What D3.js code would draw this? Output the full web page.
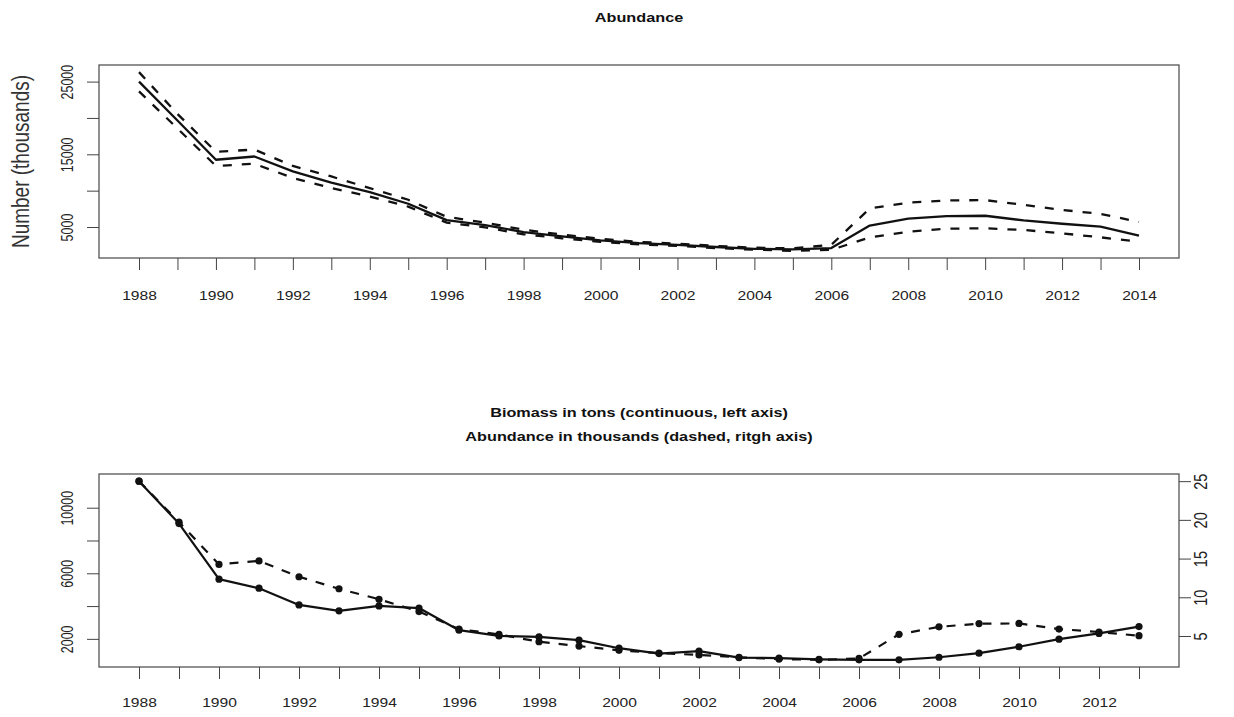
<!DOCTYPE html>
<html>
<head>
<meta charset="utf-8">
<script src="https://cdn.jsdelivr.net/npm/d3@7"></script>
<style>
  html, body { margin: 0; padding: 0; background: #fff; }
  svg { display: block; font-family: "Liberation Sans", Arial, sans-serif; }
</style>
</head>
<body>
<svg id="chart" width="1234" height="717"></svg>
<script>
// ---- Abundance panel (thousands of individuals, with confidence band) ----
const yearsTop = [1988,1989,1990,1991,1992,1993,1994,1995,1996,1997,1998,1999,2000,
                  2001,2002,2003,2004,2005,2006,2007,2008,2009,2010,2011,2012,2013,2014];
const abundEst = [25000,19650,14250,14700,12650,11100,9800,8200,5950,5250,4300,3700,3150,
                  2780,2550,2250,2000,1920,2100,5200,6150,6500,6550,5900,5450,5040,3800];
const abundUpper = [26300,20550,15350,15650,13400,11950,10350,8750,6400,5600,4620,3960,3360,
                    2950,2700,2400,2150,2060,2550,7550,8350,8650,8700,8050,7350,6800,5700];
const abundLower = [23650,18550,13400,13700,11750,10350,9200,7800,5600,4950,4000,3450,2950,
                    2600,2400,2100,1880,1720,1850,3580,4350,4770,4820,4590,4130,3580,2970];
const topTicksY = [5000,10000,15000,20000,25000];
const topLabelsY = [5000,15000,25000];

// ---- Biomass / abundance panel ----
const yearsBot = [1988,1989,1990,1991,1992,1993,1994,1995,1996,1997,1998,1999,2000,
                  2001,2002,2003,2004,2005,2006,2007,2008,2009,2010,2011,2012,2013];
const biomassTons = [11620,9030,5640,5090,4070,3710,4010,3880,2530,2180,2120,1920,1430,
                     1100,1250,860,820,750,720,720,880,1130,1520,1980,2330,2750];
const abundThousands = [25.0,19.7,14.25,14.7,12.65,11.1,9.75,8.15,5.9,5.2,4.26,3.7,3.15,
                        2.8,2.55,2.25,2.02,1.92,2.1,5.22,6.18,6.6,6.62,5.9,5.52,5.04];
const botTicksLeft = [2000,4000,6000,8000,10000];
const botLabelsLeft = [2000,6000,10000];
const botTicksRight = [5,10,15,20,25];

const titleTop = "Abundance";
const titleBot1 = "Biomass in tons (continuous, left axis)";
const titleBot2 = "Abundance in thousands (dashed, ritgh axis)";
const yLabelTop = "Number (thousands)";

// ---- layout ----
const plotLeft = 99, plotRight = 1179;
const topBox = { top: 65, bottom: 258 };
const botBox = { top: 474, bottom: 667 };
const SX = 1.3;            // horizontal stretch applied to all text
const ink = "#111";

const svg = d3.select("#chart");

// R-style 4% padding around the data range
function padded(lo, hi) { const p = (hi - lo) * 0.04; return [lo - p, hi + p]; }

function stretchedText(g, x, y, str, opts) {
  const o = Object.assign({ size: 12, weight: "normal", rotate: 0, anchor: "middle", dy: "0" }, opts || {});
  return g.append("text")
    .attr("transform", `translate(${x},${y}) scale(${SX},1)` + (o.rotate ? ` rotate(${o.rotate})` : ""))
    .attr("text-anchor", o.anchor)
    .attr("dy", o.dy)
    .attr("font-size", o.size)
    .attr("font-weight", o.weight)
    .attr("fill", o.fill || ink)
    .text(str);
}

function styleBottomAxis(g, size, labelY) {
  g.select(".domain").remove();
  g.selectAll(".tick line").attr("stroke", "#444").attr("stroke-width", 1);
  g.selectAll(".tick text")
    .attr("font-size", size).attr("fill", "#222")
    .attr("font-family", "Liberation Sans, Arial, sans-serif")
    .attr("transform", `scale(${SX},1)`)
    .attr("y", labelY).attr("dy", "0.35em");
}

function styleRotatedAxis(g, size, offset) {
  g.select(".domain").remove();
  g.selectAll(".tick line").attr("stroke", "#444").attr("stroke-width", 1);
  g.selectAll(".tick text")
    .attr("font-size", size).attr("fill", "#222")
    .attr("font-family", "Liberation Sans, Arial, sans-serif")
    .attr("x", null).attr("y", null)
    .attr("text-anchor", "middle")
    .attr("dy", "0.36em")
    .attr("transform", `translate(${offset},0) scale(${SX},1) rotate(-90)`);
}

// ================= Top panel =================
const xTop = d3.scaleLinear()
  .domain(padded(d3.min(yearsTop), d3.max(yearsTop)))
  .range([plotLeft, plotRight]);
const yTop = d3.scaleLinear()
  .domain(padded(d3.min(abundLower), d3.max(abundUpper)))
  .range([topBox.bottom, topBox.top]);

const gTop = svg.append("g");

gTop.append("rect")
  .attr("x", plotLeft).attr("y", topBox.top)
  .attr("width", plotRight - plotLeft).attr("height", topBox.bottom - topBox.top)
  .attr("fill", "none").attr("stroke", "#555").attr("stroke-width", 1.3);

gTop.append("g")
  .attr("transform", `translate(0,${topBox.bottom})`)
  .call(d3.axisBottom(xTop).tickValues(yearsTop).tickSize(12)
        .tickFormat(d => d % 2 === 0 ? d : ""))
  .call(g => styleBottomAxis(g, 12, 38));

gTop.append("g")
  .attr("transform", `translate(${plotLeft},0)`)
  .call(d3.axisLeft(yTop).tickValues(topTicksY).tickSize(12)
        .tickFormat(d => topLabelsY.includes(d) ? d : ""))
  .call(g => styleRotatedAxis(g, 12.5, -32));

const lineTop = (vals) => d3.line().x((d, i) => xTop(yearsTop[i])).y(d => yTop(d))(vals);

gTop.append("path").attr("d", lineTop(abundUpper))
  .attr("fill", "none").attr("stroke", ink).attr("stroke-width", 2.3)
  .attr("stroke-dasharray", "9,10");
gTop.append("path").attr("d", lineTop(abundLower))
  .attr("fill", "none").attr("stroke", ink).attr("stroke-width", 2.3)
  .attr("stroke-dasharray", "9,10");
gTop.append("path").attr("d", lineTop(abundEst))
  .attr("fill", "none").attr("stroke", ink).attr("stroke-width", 2.3)
  .attr("stroke-linejoin", "round");

stretchedText(gTop, (plotLeft + plotRight) / 2, 22, titleTop, { size: 12.5, weight: "bold" });
stretchedText(gTop, 20, (topBox.top + topBox.bottom) / 2, yLabelTop,
              { size: 19, rotate: -90, dy: "0.36em", fill: "#333" });

// ================= Bottom panel =================
const xBot = d3.scaleLinear()
  .domain(padded(d3.min(yearsBot), d3.max(yearsBot)))
  .range([plotLeft, plotRight]);
const yBio = d3.scaleLinear()
  .domain(padded(d3.min(biomassTons), d3.max(biomassTons)))
  .range([botBox.bottom, botBox.top]);
const yAbu = d3.scaleLinear()
  .domain(padded(d3.min(abundThousands), d3.max(abundThousands)))
  .range([botBox.bottom, botBox.top]);

const gBot = svg.append("g");

gBot.append("rect")
  .attr("x", plotLeft).attr("y", botBox.top)
  .attr("width", plotRight - plotLeft).attr("height", botBox.bottom - botBox.top)
  .attr("fill", "none").attr("stroke", "#555").attr("stroke-width", 1.3);

gBot.append("g")
  .attr("transform", `translate(0,${botBox.bottom})`)
  .call(d3.axisBottom(xBot).tickValues(yearsBot).tickSize(12)
        .tickFormat(d => d % 2 === 0 ? d : ""))
  .call(g => styleBottomAxis(g, 12, 36));

gBot.append("g")
  .attr("transform", `translate(${plotLeft},0)`)
  .call(d3.axisLeft(yBio).tickValues(botTicksLeft).tickSize(12)
        .tickFormat(d => botLabelsLeft.includes(d) ? d : ""))
  .call(g => styleRotatedAxis(g, 12.5, -32));

gBot.append("g")
  .attr("transform", `translate(${plotRight},0)`)
  .call(d3.axisRight(yAbu).tickValues(botTicksRight).tickSize(12))
  .call(g => styleRotatedAxis(g, 14.5, 21));

const lineBio = d3.line().x((d, i) => xBot(yearsBot[i])).y(d => yBio(d));
const lineAbu = d3.line().x((d, i) => xBot(yearsBot[i])).y(d => yAbu(d));

gBot.append("path").attr("d", lineAbu(abundThousands))
  .attr("fill", "none").attr("stroke", ink).attr("stroke-width", 2.2)
  .attr("stroke-dasharray", "9,9");
gBot.append("path").attr("d", lineBio(biomassTons))
  .attr("fill", "none").attr("stroke", ink).attr("stroke-width", 2.2)
  .attr("stroke-linejoin", "round");

gBot.append("g").selectAll("circle")
  .data(abundThousands).join("circle")
  .attr("cx", (d, i) => xBot(yearsBot[i])).attr("cy", d => yAbu(d))
  .attr("r", 3.6).attr("fill", ink);
gBot.append("g").selectAll("circle")
  .data(biomassTons).join("circle")
  .attr("cx", (d, i) => xBot(yearsBot[i])).attr("cy", d => yBio(d))
  .attr("r", 3.6).attr("fill", ink);

stretchedText(gBot, (plotLeft + plotRight) / 2, 417, titleBot1, { size: 12.5, weight: "bold" });
stretchedText(gBot, (plotLeft + plotRight) / 2, 441, titleBot2, { size: 12.5, weight: "bold" });
</script>
</body>
</html>
